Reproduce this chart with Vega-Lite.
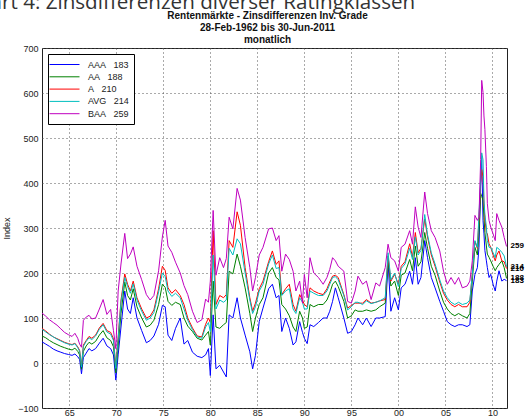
{
  "$schema": "https://vega.github.io/schema/vega-lite/v6.json",
  "width": 465,
  "height": 360,
  "autosize": "none",
  "padding": {"left": 42, "top": 48, "right": 24, "bottom": 10},
  "background": "white",
  "config": {
    "view": {"stroke": "#222", "strokeWidth": 1},
    "font": "Liberation Sans",
    "axis": {"labelFont": "Liberation Sans", "labelFontSize": 9, "labelColor": "#222", "titleFont": "Liberation Sans", "titleColor": "#222", "titleFontWeight": "normal"}
  },
  "title": {
    "text": "Chart 4: Zinsdifferenzen diverser Ratingklassen",
    "anchor": "start", "frame": "group", "dx": -77, "fontSize": 20.6, "font": "Open Sans", "fontWeight": "normal", "color": "#333", "baseline": "alphabetic", "offset": -20
  },
  "data": {"values": [
    {"t":1962.1,"AAA":47,"AA":60,"A":77,"AVG":75,"BAA":111},
    {"t":1962.5,"AAA":42,"AA":56,"A":71,"AVG":69,"BAA":104},
    {"t":1962.9,"AAA":37,"AA":50,"A":64,"AVG":63,"BAA":96},
    {"t":1963.3,"AAA":31,"AA":45,"A":58,"AVG":58,"BAA":90},
    {"t":1963.7,"AAA":27,"AA":41,"A":54,"AVG":53,"BAA":84},
    {"t":1964.1,"AAA":24,"AA":37,"A":50,"AVG":49,"BAA":76},
    {"t":1964.5,"AAA":21,"AA":34,"A":46,"AVG":45,"BAA":68},
    {"t":1964.9,"AAA":19,"AA":31,"A":43,"AVG":42,"BAA":63},
    {"t":1965.3,"AAA":17,"AA":29,"A":41,"AVG":40,"BAA":59},
    {"t":1965.6,"AAA":20,"AA":33,"A":44,"AVG":43,"BAA":66},
    {"t":1965.9,"AAA":14,"AA":26,"A":36,"AVG":34,"BAA":55},
    {"t":1966.1,"AAA":8,"AA":18,"A":28,"AVG":26,"BAA":42},
    {"t":1966.3,"AAA":-24,"AA":-14,"A":-6,"AVG":-9,"BAA":35},
    {"t":1966.5,"AAA":12,"AA":26,"A":40,"AVG":37,"BAA":95},
    {"t":1966.8,"AAA":22,"AA":38,"A":50,"AVG":48,"BAA":102},
    {"t":1967.1,"AAA":32,"AA":46,"A":59,"AVG":56,"BAA":106},
    {"t":1967.4,"AAA":27,"AA":42,"A":55,"AVG":52,"BAA":98},
    {"t":1967.8,"AAA":32,"AA":48,"A":62,"AVG":60,"BAA":100},
    {"t":1968.2,"AAA":44,"AA":62,"A":78,"AVG":75,"BAA":120},
    {"t":1968.6,"AAA":55,"AA":72,"A":88,"AVG":85,"BAA":141},
    {"t":1969.0,"AAA":38,"AA":56,"A":72,"AVG":69,"BAA":108},
    {"t":1969.4,"AAA":32,"AA":50,"A":68,"AVG":64,"BAA":119},
    {"t":1969.7,"AAA":18,"AA":36,"A":54,"AVG":50,"BAA":72},
    {"t":1969.95,"AAA":-38,"AA":-22,"A":-8,"AVG":-12,"BAA":32},
    {"t":1970.2,"AAA":18,"AA":38,"A":58,"AVG":54,"BAA":160},
    {"t":1970.5,"AAA":80,"AA":110,"A":140,"AVG":135,"BAA":220},
    {"t":1970.9,"AAA":160,"AA":180,"A":198,"AVG":190,"BAA":288},
    {"t":1971.2,"AAA":120,"AA":150,"A":175,"AVG":170,"BAA":232},
    {"t":1971.5,"AAA":110,"AA":140,"A":160,"AVG":155,"BAA":242},
    {"t":1971.8,"AAA":145,"AA":165,"A":182,"AVG":176,"BAA":258},
    {"t":1972.2,"AAA":100,"AA":125,"A":145,"AVG":140,"BAA":215},
    {"t":1972.7,"AAA":72,"AA":100,"A":120,"AVG":115,"BAA":185},
    {"t":1973.2,"AAA":45,"AA":80,"A":100,"AVG":95,"BAA":152},
    {"t":1973.6,"AAA":50,"AA":84,"A":104,"AVG":100,"BAA":140},
    {"t":1974.0,"AAA":60,"AA":95,"A":118,"AVG":112,"BAA":150},
    {"t":1974.5,"AAA":86,"AA":130,"A":165,"AVG":158,"BAA":205},
    {"t":1974.9,"AAA":128,"AA":175,"A":215,"AVG":200,"BAA":280},
    {"t":1975.2,"AAA":125,"AA":168,"A":206,"AVG":192,"BAA":317},
    {"t":1975.5,"AAA":62,"AA":137,"A":167,"AVG":160,"BAA":260},
    {"t":1975.9,"AAA":50,"AA":128,"A":155,"AVG":148,"BAA":246},
    {"t":1976.3,"AAA":77,"AA":135,"A":163,"AVG":155,"BAA":224},
    {"t":1976.8,"AAA":100,"AA":130,"A":150,"AVG":145,"BAA":200},
    {"t":1977.2,"AAA":42,"AA":100,"A":130,"AVG":120,"BAA":172},
    {"t":1977.6,"AAA":50,"AA":82,"A":100,"AVG":95,"BAA":152},
    {"t":1978.1,"AAA":24,"AA":70,"A":78,"AVG":74,"BAA":115},
    {"t":1978.6,"AAA":15,"AA":55,"A":60,"AVG":58,"BAA":90},
    {"t":1979.1,"AAA":12,"AA":51,"A":58,"AVG":55,"BAA":96},
    {"t":1979.5,"AAA":18,"AA":62,"A":86,"AVG":80,"BAA":142},
    {"t":1979.8,"AAA":32,"AA":70,"A":100,"AVG":90,"BAA":135},
    {"t":1980.0,"AAA":-28,"AA":40,"A":90,"AVG":70,"BAA":182},
    {"t":1980.3,"AAA":107,"AA":182,"A":294,"AVG":240,"BAA":339},
    {"t":1980.6,"AAA":-13,"AA":80,"A":130,"AVG":120,"BAA":195},
    {"t":1981.0,"AAA":-5,"AA":77,"A":150,"AVG":140,"BAA":234},
    {"t":1981.4,"AAA":-20,"AA":85,"A":145,"AVG":135,"BAA":212},
    {"t":1981.7,"AAA":-31,"AA":90,"A":152,"AVG":140,"BAA":232},
    {"t":1982.0,"AAA":107,"AA":204,"A":272,"AVG":255,"BAA":324},
    {"t":1982.4,"AAA":100,"AA":198,"A":257,"AVG":240,"BAA":298},
    {"t":1982.85,"AAA":145,"AA":242,"A":336,"AVG":276,"BAA":388},
    {"t":1983.2,"AAA":100,"AA":215,"A":306,"AVG":265,"BAA":362},
    {"t":1983.7,"AAA":62,"AA":167,"A":212,"AVG":200,"BAA":279},
    {"t":1984.2,"AAA":25,"AA":110,"A":145,"AVG":140,"BAA":212},
    {"t":1984.5,"AAA":-13,"AA":70,"A":115,"AVG":110,"BAA":160},
    {"t":1984.8,"AAA":17,"AA":100,"A":133,"AVG":125,"BAA":190},
    {"t":1985.2,"AAA":92,"AA":130,"A":165,"AVG":160,"BAA":240},
    {"t":1985.6,"AAA":122,"AA":145,"A":182,"AVG":175,"BAA":257},
    {"t":1986.2,"AAA":165,"AA":200,"A":225,"AVG":220,"BAA":298},
    {"t":1986.6,"AAA":175,"AA":212,"A":249,"AVG":240,"BAA":300},
    {"t":1987.0,"AAA":145,"AA":190,"A":219,"AVG":210,"BAA":272},
    {"t":1987.3,"AAA":150,"AA":185,"A":227,"AVG":212,"BAA":283},
    {"t":1987.6,"AAA":70,"AA":130,"A":152,"AVG":150,"BAA":204},
    {"t":1988.0,"AAA":100,"AA":120,"A":165,"AVG":160,"BAA":242},
    {"t":1988.4,"AAA":77,"AA":105,"A":175,"AVG":165,"BAA":230},
    {"t":1988.8,"AAA":40,"AA":80,"A":130,"AVG":120,"BAA":204},
    {"t":1989.1,"AAA":47,"AA":70,"A":115,"AVG":110,"BAA":160},
    {"t":1989.5,"AAA":92,"AA":115,"A":152,"AVG":145,"BAA":182},
    {"t":1989.8,"AAA":68,"AA":100,"A":140,"AVG":135,"BAA":133},
    {"t":1990.0,"AAA":55,"AA":77,"A":130,"AVG":120,"BAA":197},
    {"t":1990.3,"AAA":43,"AA":80,"A":125,"AVG":120,"BAA":145},
    {"t":1990.6,"AAA":85,"AA":130,"A":167,"AVG":160,"BAA":234},
    {"t":1991.0,"AAA":81,"AA":125,"A":160,"AVG":155,"BAA":200},
    {"t":1991.5,"AAA":90,"AA":130,"A":155,"AVG":150,"BAA":190},
    {"t":1992.0,"AAA":100,"AA":130,"A":152,"AVG":150,"BAA":175},
    {"t":1992.4,"AAA":100,"AA":140,"A":165,"AVG":160,"BAA":190},
    {"t":1992.7,"AAA":115,"AA":155,"A":180,"AVG":175,"BAA":208},
    {"t":1993.0,"AAA":137,"AA":175,"A":193,"AVG":190,"BAA":234},
    {"t":1993.3,"AAA":167,"AA":182,"A":195,"AVG":192,"BAA":227},
    {"t":1993.6,"AAA":145,"AA":170,"A":190,"AVG":185,"BAA":215},
    {"t":1994.2,"AAA":100,"AA":137,"A":152,"AVG":150,"BAA":204},
    {"t":1994.6,"AAA":66,"AA":100,"A":122,"AVG":118,"BAA":137},
    {"t":1995.0,"AAA":70,"AA":105,"A":128,"AVG":125,"BAA":133},
    {"t":1995.4,"AAA":85,"AA":118,"A":133,"AVG":135,"BAA":160},
    {"t":1995.7,"AAA":100,"AA":115,"A":133,"AVG":135,"BAA":193},
    {"t":1996.2,"AAA":85,"AA":115,"A":133,"AVG":130,"BAA":175},
    {"t":1996.6,"AAA":100,"AA":118,"A":141,"AVG":138,"BAA":182},
    {"t":1997.1,"AAA":81,"AA":115,"A":133,"AVG":132,"BAA":141},
    {"t":1997.6,"AAA":100,"AA":118,"A":135,"AVG":135,"BAA":178},
    {"t":1998.0,"AAA":100,"AA":125,"A":138,"AVG":138,"BAA":171},
    {"t":1998.6,"AAA":103,"AA":133,"A":141,"AVG":145,"BAA":212},
    {"t":1998.9,"AAA":223,"AA":227,"A":238,"AVG":245,"BAA":264},
    {"t":1999.2,"AAA":115,"AA":171,"A":182,"AVG":185,"BAA":234},
    {"t":1999.6,"AAA":145,"AA":182,"A":197,"AVG":200,"BAA":227},
    {"t":2000.0,"AAA":118,"AA":150,"A":175,"AVG":170,"BAA":204},
    {"t":2000.3,"AAA":167,"AA":195,"A":215,"AVG":210,"BAA":257},
    {"t":2000.7,"AAA":175,"AA":200,"A":225,"AVG":220,"BAA":264},
    {"t":2001.2,"AAA":204,"AA":230,"A":265,"AVG":255,"BAA":294},
    {"t":2001.5,"AAA":175,"AA":205,"A":235,"AVG":230,"BAA":264},
    {"t":2001.8,"AAA":234,"AA":260,"A":290,"AVG":280,"BAA":347},
    {"t":2002.1,"AAA":175,"AA":215,"A":245,"AVG":240,"BAA":302},
    {"t":2002.4,"AAA":190,"AA":225,"A":255,"AVG":250,"BAA":279},
    {"t":2002.8,"AAA":272,"AA":290,"A":320,"AVG":330,"BAA":380},
    {"t":2003.1,"AAA":234,"AA":255,"A":280,"AVG":285,"BAA":332},
    {"t":2003.5,"AAA":190,"AA":215,"A":240,"AVG":245,"BAA":294},
    {"t":2003.9,"AAA":167,"AA":195,"A":215,"AVG":220,"BAA":279},
    {"t":2004.4,"AAA":137,"AA":160,"A":180,"AVG":185,"BAA":249},
    {"t":2004.8,"AAA":115,"AA":135,"A":155,"AVG":160,"BAA":204},
    {"t":2005.2,"AAA":92,"AA":120,"A":140,"AVG":145,"BAA":175},
    {"t":2005.6,"AAA":85,"AA":110,"A":130,"AVG":135,"BAA":190},
    {"t":2006.0,"AAA":81,"AA":105,"A":125,"AVG":130,"BAA":175},
    {"t":2006.4,"AAA":85,"AA":110,"A":130,"AVG":135,"BAA":190},
    {"t":2006.8,"AAA":85,"AA":105,"A":125,"AVG":130,"BAA":167},
    {"t":2007.3,"AAA":81,"AA":100,"A":125,"AVG":133,"BAA":171},
    {"t":2007.6,"AAA":85,"AA":110,"A":135,"AVG":140,"BAA":182},
    {"t":2007.86,"AAA":160,"AA":182,"A":200,"AVG":197,"BAA":227},
    {"t":2008.14,"AAA":197,"AA":257,"A":270,"AVG":272,"BAA":328},
    {"t":2008.4,"AAA":212,"AA":240,"A":255,"AVG":257,"BAA":317},
    {"t":2008.57,"AAA":257,"AA":290,"A":320,"AVG":330,"BAA":324},
    {"t":2008.75,"AAA":400,"AA":377,"A":400,"AVG":407,"BAA":452},
    {"t":2008.86,"AAA":455,"AA":370,"A":430,"AVG":467,"BAA":628},
    {"t":2009.0,"AAA":317,"AA":362,"A":414,"AVG":452,"BAA":601},
    {"t":2009.1,"AAA":287,"AA":324,"A":354,"AVG":362,"BAA":549},
    {"t":2009.2,"AAA":250,"AA":290,"A":320,"AVG":330,"BAA":519},
    {"t":2009.36,"AAA":227,"AA":260,"A":290,"AVG":302,"BAA":437},
    {"t":2009.46,"AAA":212,"AA":242,"A":287,"AVG":272,"BAA":354},
    {"t":2009.64,"AAA":190,"AA":235,"A":265,"AVG":257,"BAA":317},
    {"t":2009.82,"AAA":197,"AA":227,"A":257,"AVG":257,"BAA":302},
    {"t":2010.07,"AAA":175,"AA":215,"A":240,"AVG":245,"BAA":287},
    {"t":2010.3,"AAA":160,"AA":205,"A":227,"AVG":234,"BAA":272},
    {"t":2010.46,"AAA":182,"AA":212,"A":240,"AVG":257,"BAA":332},
    {"t":2010.7,"AAA":205,"AA":219,"A":249,"AVG":253,"BAA":317},
    {"t":2011.0,"AAA":182,"AA":227,"A":227,"AVG":246,"BAA":302},
    {"t":2011.25,"AAA":186,"AA":212,"A":225,"AVG":238,"BAA":279},
    {"t":2011.5,"AAA":183,"AA":188,"A":210,"AVG":214,"BAA":259}
  ]},
  "transform": [{"fold": ["AAA", "AA", "A", "AVG", "BAA"], "as": ["series", "value"]}],
  "layer": [
    {
      "mark": {"type": "line", "strokeWidth": 1, "clip": true},
      "encoding": {
        "x": {"field": "t", "type": "quantitative",
          "scale": {"domain": [1962.1, 2011.55], "nice": false, "zero": false},
          "axis": {"values": [1965, 1970, 1975, 1980, 1985, 1990, 1995, 2000, 2005, 2010],
            "labelExpr": "format(datum.value % 100, '02d')", "grid": true, "gridDash": [1, 3], "gridColor": "#555",
            "ticks": false, "labelPadding": 0, "labelFontSize": 9, "title": null, "domain": false}},
        "y": {"field": "value", "type": "quantitative",
          "scale": {"domain": [-100, 700], "nice": false},
          "axis": {"values": [-100, 0, 100, 200, 300, 400, 500, 600, 700], "grid": true, "gridDash": [1, 3], "gridColor": "#555",
            "ticks": false, "labelPadding": 4, "domain": false, "title": "Index", "titleFontSize": 9, "titlePadding": 6}},
        "color": {"field": "series", "type": "nominal",
          "scale": {"domain": ["AAA", "AA", "A", "AVG", "BAA"], "range": ["#0000ff", "#008000", "#ff0000", "#00bfbf", "#bf00bf"]},
          "legend": {"orient": "top-left", "offset": 6, "title": null, "strokeColor": "#000", "fillColor": "white", "padding": 5,
            "symbolType": "M-3,0H3", "symbolSize": 100, "symbolStrokeWidth": 1, "symbolFillColor": "transparent", "symbolOffset": 6, "labelFontSize": 9, "labelColor": "#222", "rowPadding": 1.3, "labelOffset": 18,
            "labelExpr": "datum.label == 'AAA' ? 'AAA\u00a0\u00a0\u00a0183' : datum.label == 'AA' ? 'AA\u00a0\u00a0\u00a0188' : datum.label == 'A' ? 'A\u00a0\u00a0\u00a0210' : datum.label == 'AVG' ? 'AVG\u00a0\u00a0\u00a0214' : 'BAA\u00a0\u00a0\u00a0259'"}}
      }
    },
    {
      "transform": [{"filter": "datum.t == 2011.5"}],
      "mark": {"type": "text", "align": "left", "dx": 4, "fontSize": 8, "fontWeight": "bold", "color": "black"},
      "encoding": {
        "x": {"field": "t", "type": "quantitative",
          "axis": {"orient": "top", "labels": false, "ticks": false, "domain": false, "grid": false,
            "title": ["Rentenmärkte - Zinsdifferenzen Inv. Grade", "28-Feb-1962 bis 30-Jun-2011", "monatlich"],
            "titleFontWeight": "bold", "titleFontSize": 10, "titleLineHeight": 12, "titlePadding": 4, "titleX": 225, "titleColor": "#111"}},
        "y": {"field": "value", "type": "quantitative"},
        "text": {"field": "value", "type": "quantitative"}
      }
    }
  ],
  "resolve": {"axis": {"x": "independent"}}
}
